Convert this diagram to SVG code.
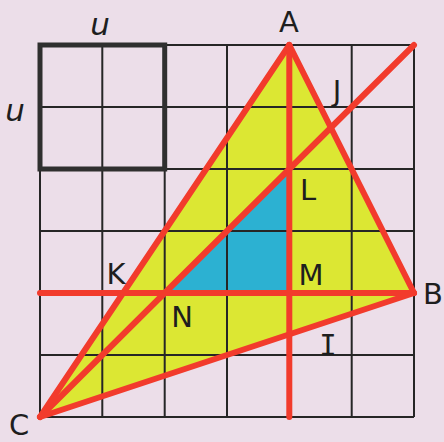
<svg xmlns="http://www.w3.org/2000/svg" width="444" height="442" viewBox="0 0 444 442">
<style>
.grid{stroke:#262626;stroke-width:2;fill:none}
.thick{stroke:#2f2f2f;stroke-width:5;fill:none}
.red{stroke:#f23b2c;stroke-width:6;stroke-linecap:round;fill:none}
.lbl{font-family:"DejaVu Sans",Verdana,sans-serif;font-size:29px;fill:#1e1e1e;text-anchor:middle}
.u{font-family:"DejaVu Sans",Verdana,sans-serif;font-size:31px;font-style:italic;fill:#1e1e1e;text-anchor:middle}
</style>
<rect width="444" height="442" fill="#ecdee9"/>
<g id="fills">
<polygon points="289.3,45 414,293 40,417" fill="#dce733"/>
<polygon points="164.7,293 289.3,169 289.3,293" fill="#2cb1d2"/>
</g>
<g id="grid" class="grid">
<path d="M40,45V417M102.3,45V417M164.7,45V417M227,45V417M289.3,45V417M351.7,45V417M414,45V417"/>
<path d="M40,45H414M40,107H414M40,169H414M40,231H414M40,293H414M40,355H414M40,417H414"/>
</g>
<g id="unit-square">
<rect class="thick" x="40" y="45" width="124.7" height="124"/>
</g>
<g id="connectors" class="red">
<line x1="289.3" y1="45" x2="40" y2="417"/>
<line x1="289.3" y1="45" x2="414" y2="293"/>
<line x1="40" y1="417" x2="414" y2="293"/>
<line x1="40" y1="417" x2="414" y2="45"/>
<line x1="289.3" y1="45" x2="289.3" y2="417"/>
<line x1="40" y1="293" x2="414" y2="293"/>
</g>
<g id="labels">
<text class="u" x="100" y="35">u</text>
<text class="u" x="15" y="121">u</text>
<text id="A" class="lbl" x="289" y="32">A</text>
<text id="J" class="lbl" x="337" y="101">J</text>
<text id="L" class="lbl" x="308" y="200">L</text>
<text id="K" class="lbl" x="116" y="284">K</text>
<text id="M" class="lbl" x="311" y="285">M</text>
<text id="N" class="lbl" x="182" y="327">N</text>
<text id="B" class="lbl" x="433" y="304">B</text>
<text id="I" class="lbl" x="328" y="355" style="font-family:'DejaVu Sans Mono',monospace">I</text>
<text id="C" class="lbl" x="19" y="435">C</text>
</g>
</svg>
